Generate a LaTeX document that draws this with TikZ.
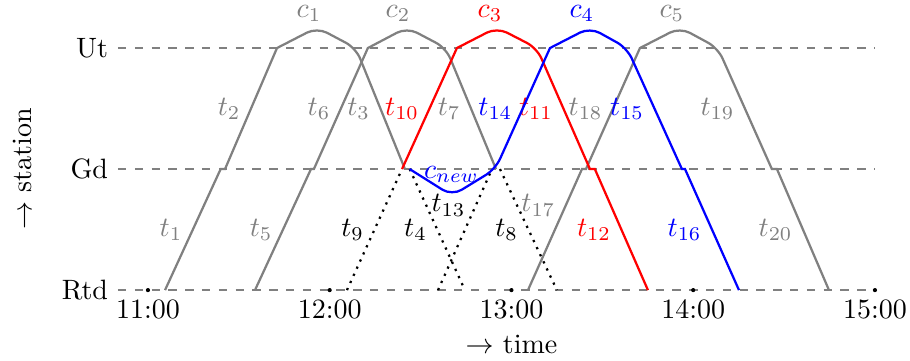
\documentclass[tikz,border=0pt]{standalone}
\usepackage{tikz}
\usetikzlibrary{positioning}
\definecolor{runGrey}{HTML}{808080}
\definecolor{runRed}{HTML}{FF0000}
\definecolor{runBlue}{HTML}{0000FF}
\tikzset{
  stationline/.style={dashed, thick, draw=runGrey},
  run/.style={thick, draw=runGrey},
  redrun/.style={thick, draw=runRed},
  bluerun/.style={thick, draw=runBlue},
  gone/.style={dotted, thick, draw=black},
  lbl/.style={left, text=runGrey},
  clbl/.style={anchor=base, inner sep=1pt},
  turn/.style={rounded corners=4pt},
}
\begin{document}
\begin{tikzpicture}[x=2.281cm, y=1.519cm]
    \useasboundingbox (-0.814,-0.579) rectangle (4.193,2.397);
    % stations
    \foreach \y/\name in {0/Rtd,1/Gd,2/Ut}{
      \draw[stationline] (-0.165,\y) -- (4,\y);
      \node[left] (st\name) at (-0.165,\y) {\name};
    }
    \node[rotate=90] (ylabel) at (-0.69,1) {$\rightarrow$ station};
    % grey circulations
    \draw[run] (0.094,0) -- node[lbl] (t1) {$t_1$} (0.400,1) -- (0.424,1)
      -- node[lbl] (t2) {$t_2$} (0.710,2) [turn] -- (0.930,2.17) -- (1.144,2) [sharp corners]
      -- node[lbl] (t3) {$t_3$} (1.414,1);
    \draw[run] (0.589,0) -- node[lbl] (t5) {$t_5$} (0.897,1) -- (0.913,1)
      -- node[lbl] (t6) {$t_6$} (1.210,2) [turn] -- (1.425,2.17) -- (1.640,2) [sharp corners]
      -- node[lbl] (t7) {$t_7$} (1.915,1);
    \draw[run] (2.091,0) -- node[lbl,pos=.7] (t17) {$t_{17}$} (2.388,1) -- (2.410,1)
      -- node[lbl] (t18) {$t_{18}$} (2.707,2) [turn] -- (2.927,2.17) -- (3.136,2) [sharp corners]
      -- node[lbl] (t19) {$t_{19}$} (3.433,1) -- (3.461,1)
      -- node[lbl] (t20) {$t_{20}$} (3.747,0);
    % cancelled trips
    \draw[gone] (1.095,0) -- node[lbl,text=black] (t9) {$t_9$} (1.398,1);
    \draw[gone] (1.440,1) -- node[lbl,text=black] (t4) {$t_4$} (1.744,0);
    \draw[gone] (1.596,0) -- node[lbl,text=black,pos=.7] (t13) {$t_{13}$} (1.893,1);
    \draw[gone] (1.937,1) -- node[lbl,text=black] (t8) {$t_8$} (2.250,0);
    % c3
    \draw[redrun] (1.398,1) -- node[lbl,text=runRed] (t10) {$t_{10}$} (1.700,2)
      [turn] -- (1.920,2.17) -- (2.140,2) [sharp corners]
      -- node[lbl,text=runRed] (t11) {$t_{11}$} (2.432,1) -- (2.459,1)
      -- node[lbl,text=runRed] (t12) {$t_{12}$} (2.751,0);
    % c4 with the new turn at Gd
    \draw[bluerun] (1.440,1) [turn] -- (1.673,0.78) -- (1.912,1) [sharp corners]
      -- node[lbl,text=runBlue] (t14) {$t_{14}$} (2.212,2)
      [turn] -- (2.432,2.17) -- (2.636,2) [sharp corners]
      -- node[lbl,text=runBlue] (t15) {$t_{15}$} (2.938,1) -- (2.955,1)
      -- node[lbl,text=runBlue] (t16) {$t_{16}$} (3.252,0);
    \node[clbl,text=runBlue] (cnew) at (1.670,0.926) {$c_{new}$};
    \foreach \x/\i/\col in {0.886/1/runGrey, 1.376/2/runGrey, 1.882/3/runRed,
                            2.388/4/runBlue, 2.883/5/runGrey}{
      \node[clbl,text=\col] (c\i) at (\x,2.255) {$c_{\i}$};
    }
    % time axis
    \foreach \h in {11,...,15}{
      \fill (\h-11,0) circle (0.75pt);
      \node[below] (tm\h) at (\h-11,0) {\h:00};
    }
    \node[below=-1.4pt of tm13] (xlabel) {$\rightarrow$ time};
\end{tikzpicture}
\end{document}
